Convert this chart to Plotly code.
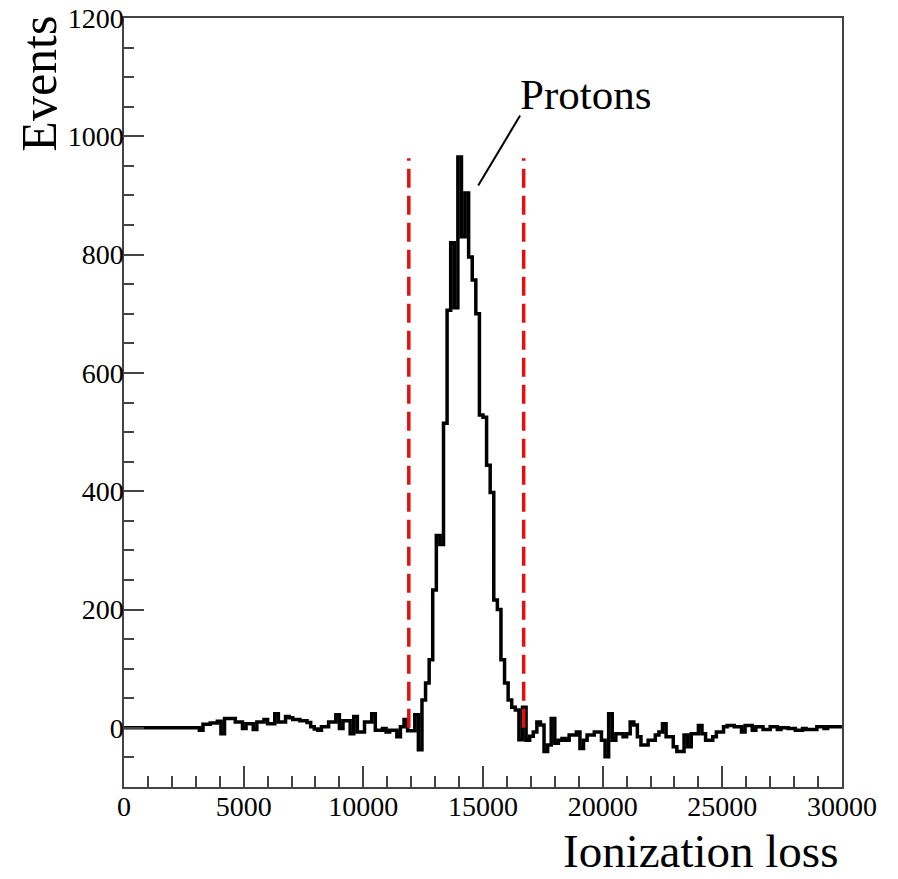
import numpy as np
import plotly.graph_objects as go

# ---- data ----
bin_width = 150
counts_flat = [0] * 20  # 0 - 3000
counts_left = [0, -4, 6, 6, 8, 8, 11, -10, 16, 16, 16, 10, 10, -1, 7, 7, -3, 10, 10, 14,
               7, 7, 24, 10, 10, 19, 17, 14, 14, 12, 12, 9, 2, -2, -4, 2, 2, 10, 10, 22,
               -1, 12, 12, -10, 19, -7, -7, 10, 10, 24, -4, -4, -1, -7, -4, -4, -15, 2, 14, -5]
counts_peak = [-5, 22, -37, 47, 76, 115, 233, 325, 310, 515, 706, 820, 710, 965, 830, 904,
               796, 757, 700, 529, 525, 444, 398, 216, 200, 115, 76, 47, 35, 30, -20, 35]
counts_right = [-21, -14, -7, 10, 5, -40, -29, 16, -26, -21, -18, -21, -12, -12, -7, -35,
                -21, -12, -12, -7, -7, -21, -49, 24, -21, -10, -10, -15, -10, 10, 5, -15,
                -29, -29, -21, -21, -12, -7, 7, -15, -15, -32, -40, -40, -12, -32, -10, -10,
                4, -10, -21, -21, -15, -7, -7, 2, 4, 4, 2, 2, -7, 4, 4, -4, 2, 2,
                -3, -3, 2, 2, -3, 0, 0, -1, -1, -4, -4, -1, -3, -3, -3, 2, 2, -1, 2, 2, 2, 2]
cut_low, cut_high = 11900, 16700
cut_top = 963
x_ticks = [0, 5000, 10000, 15000, 20000, 25000, 30000]
y_ticks = [0, 200, 400, 600, 800, 1000, 1200]

counts = counts_flat + counts_left + counts_peak + counts_right
edges = bin_width * np.arange(len(counts) + 1)
xs = list(edges)
ys = counts + [counts[-1]]

FONT = "Liberation Serif"

fig = go.Figure()
fig.add_trace(go.Scatter(x=xs, y=ys, mode="lines", line=dict(color="black", width=3.5, shape="hv"),
                         showlegend=False, hoverinfo="skip"))
for xc in (cut_low, cut_high):
    fig.add_trace(go.Scatter(x=[xc, xc], y=[0, cut_top], mode="lines",
                             line=dict(color="#e41010", width=3.5, dash="19px,8px"),
                             showlegend=False, hoverinfo="skip"))

# pointer line for label
fig.add_shape(type="line", x0=14800, y0=917, x1=16550, y1=1035, xref="x", yref="y",
              line=dict(color="black", width=2))
fig.add_annotation(x=16450, y=1070, xref="x", yref="y", text="Protons", showarrow=False,
                   xanchor="left", yanchor="middle", font=dict(family=FONT, size=43, color="black"))

fig.add_annotation(x=-0.118, y=1.006, xref="paper", yref="paper", text="Events", textangle=-90,
                   showarrow=False, xanchor="center", yanchor="top",
                   font=dict(family=FONT, size=50, color="black"))
fig.add_annotation(x=0.997, y=-0.1196, xref="paper", yref="paper", text="Ionization loss",
                   showarrow=False, xanchor="right", yanchor="bottom",
                   font=dict(family=FONT, size=47, color="black"))

axis_common = dict(showline=True, linecolor="#444", linewidth=1.5, mirror=True, showgrid=False,
                   zeroline=False, ticks="inside", tickcolor="#444", tickwidth=1.5, automargin=False,
                   tickfont=dict(family=FONT, size=28, color="black"))
fig.update_xaxes(range=[0, 30000], tickvals=x_ticks, ticktext=[str(v) for v in x_ticks],
                 ticklen=21, ticklabelstandoff=-6,
                 minor=dict(dtick=1000, ticklen=11, ticks="inside", tickcolor="#444", tickwidth=1.5),
                 **axis_common)
fig.update_yaxes(range=[-100, 1200], tickvals=y_ticks, ticktext=[str(v) for v in y_ticks],
                 ticklen=20, ticklabelstandoff=-7,
                 minor=dict(dtick=50, ticklen=10, ticks="inside", tickcolor="#444", tickwidth=1.5),
                 **axis_common)

fig.update_layout(width=898, height=879, margin=dict(l=124, r=56, t=18, b=92),
                  plot_bgcolor="white", paper_bgcolor="white", showlegend=False)
fig.write_html("out.html")
